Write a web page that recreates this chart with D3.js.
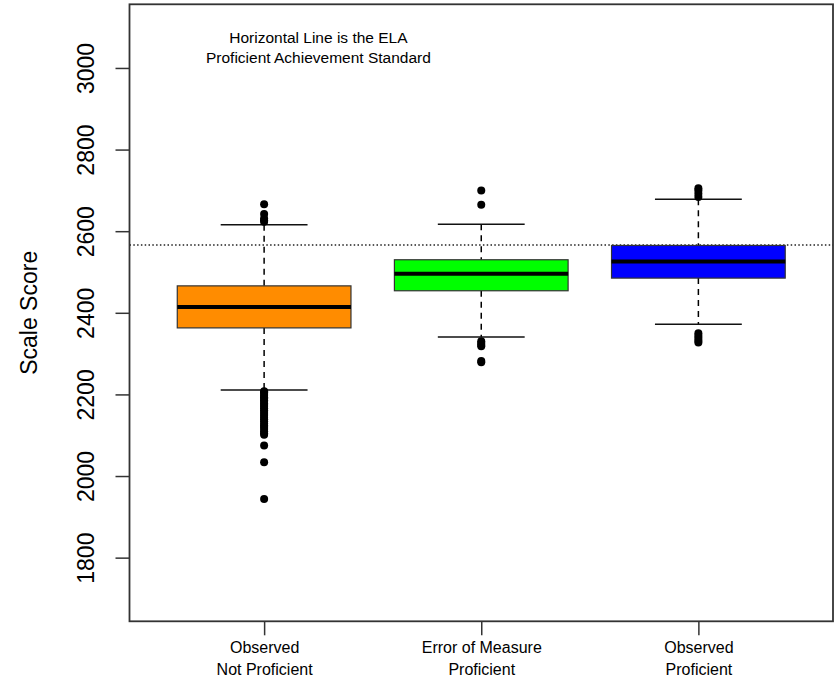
<!DOCTYPE html>
<html>
<head>
<meta charset="utf-8">
<script src="https://cdn.jsdelivr.net/npm/d3@7"></script>
<style>
  html, body { margin: 0; padding: 0; background: #fff; }
  svg { display: block; }
  text { font-family: "Liberation Sans", Arial, sans-serif; fill: #000; }
</style>
</head>
<body>
<script>
// ---- data ----
const categories = [["Observed", "Not Proficient"], ["Error of Measure", "Proficient"], ["Observed", "Proficient"]];
const lowerWhisker = [2211, 2341, 2372];
const q1 = [2363, 2454, 2485];
const medians = [2414, 2496, 2526];
const q3 = [2466, 2530, 2565];
const upperWhisker = [2616, 2617, 2678];
const outliersNotProficient = [2623, 2627, 2631, 2642, 2666,
  2208, 2205, 2201, 2197, 2193, 2190, 2186, 2182, 2178, 2174, 2170, 2166, 2161, 2157, 2152,
  2148, 2143, 2139, 2134, 2129, 2124, 2120, 2115, 2110, 2105, 2101, 2075, 2034, 1944];
const outliersErrorProficient = [2700, 2665, 2330, 2326, 2321, 2318, 2282, 2279];
const outliersObservedProficient = [2705, 2700, 2692, 2684, 2350, 2344, 2338, 2332, 2327];
const outliers = [outliersNotProficient, outliersErrorProficient, outliersObservedProficient];
const yTicks = [1800, 2000, 2200, 2400, 2600, 2800, 3000];
const standard = 2566;
const annotationLines = ["Horizontal Line is the ELA", "Proficient Achievement Standard"];
const yLabel = "Scale Score";
const fills = ["#FF8C00", "#00FF00", "#0000FF"];

// ---- layout ----
const W = 837, H = 680;
const L = 129.5, R = 833, T = 4.3, B = 621.3;

const svg = d3.select("body").append("svg").attr("width", W).attr("height", H);

const x = d3.scaleLinear().domain([0.38, 3.62]).range([L, R]);
const y = d3.scaleLinear().domain([1644, 3156]).range([B, T]);

const boxW = 0.8, capW = 0.4;

// reference line (drawn first, boxes over it)
svg.append("line")
  .attr("x1", L).attr("x2", R)
  .attr("y1", y(standard)).attr("y2", y(standard))
  .attr("stroke", "#222").attr("stroke-width", 1.5)
  .attr("stroke-dasharray", "1.5,2.3");

const groups = svg.append("g").selectAll("g")
  .data(categories.map((c, i) => ({ i, pos: i + 1 })))
  .join("g");

// whiskers (dashed)
groups.append("line")
  .attr("x1", d => x(d.pos)).attr("x2", d => x(d.pos))
  .attr("y1", d => y(upperWhisker[d.i])).attr("y2", d => y(q3[d.i]))
  .attr("stroke", "#000").attr("stroke-width", 1.5).attr("stroke-dasharray", "6,5");
groups.append("line")
  .attr("x1", d => x(d.pos)).attr("x2", d => x(d.pos))
  .attr("y1", d => y(q1[d.i])).attr("y2", d => y(lowerWhisker[d.i]))
  .attr("stroke", "#000").attr("stroke-width", 1.5).attr("stroke-dasharray", "6,5");

// caps
[upperWhisker, lowerWhisker].forEach(arr => {
  groups.append("line")
    .attr("x1", d => x(d.pos - capW / 2)).attr("x2", d => x(d.pos + capW / 2))
    .attr("y1", d => y(arr[d.i])).attr("y2", d => y(arr[d.i]))
    .attr("stroke", "#111").attr("stroke-width", 1.5);
});

// boxes
groups.append("rect")
  .attr("x", d => x(d.pos - boxW / 2))
  .attr("width", d => x(d.pos + boxW / 2) - x(d.pos - boxW / 2))
  .attr("y", d => y(q3[d.i]))
  .attr("height", d => y(q1[d.i]) - y(q3[d.i]))
  .attr("fill", d => fills[d.i])
  .attr("stroke", "#333").attr("stroke-width", 1.2);

// medians
groups.append("line")
  .attr("x1", d => x(d.pos - boxW / 2)).attr("x2", d => x(d.pos + boxW / 2))
  .attr("y1", d => y(medians[d.i])).attr("y2", d => y(medians[d.i]))
  .attr("stroke", "#000").attr("stroke-width", 4);

// outliers
groups.selectAll("circle")
  .data(d => outliers[d.i].map(v => ({ v, pos: d.pos })))
  .join("circle")
  .attr("cx", d => x(d.pos)).attr("cy", d => y(d.v))
  .attr("r", 4).attr("fill", "#000");

// frame
svg.append("rect")
  .attr("x", L).attr("y", T).attr("width", R - L).attr("height", B - T)
  .attr("fill", "none").attr("stroke", "#333").attr("stroke-width", 1.8);

// y axis
const yAxis = svg.append("g").attr("transform", `translate(${L},0)`)
  .call(d3.axisLeft(y).tickValues(yTicks).tickSize(14).tickFormat(d3.format("d")));
yAxis.select(".domain").remove();
yAxis.selectAll(".tick line").attr("stroke", "#333").attr("stroke-width", 1.5);
yAxis.selectAll(".tick text")
  .attr("transform", "rotate(-90)")
  .attr("x", 0).attr("y", -35.5).attr("dy", 0)
  .attr("text-anchor", "middle")
  .style("font-family", "'Liberation Sans', Arial, sans-serif")
  .style("font-size", "23px").attr("fill", "#000");

// x axis
const xAxis = svg.append("g").attr("transform", `translate(0,${B})`)
  .call(d3.axisBottom(x).tickValues([1, 2, 3]).tickSize(14).tickFormat(""));
xAxis.select(".domain").remove();
xAxis.selectAll(".tick line").attr("stroke", "#333").attr("stroke-width", 1.5);
xAxis.selectAll(".tick").each(function (d) {
  const lines = categories[d - 1];
  const t = d3.select(this).append("text")
    .attr("text-anchor", "middle")
    .style("font-family", "'Liberation Sans', Arial, sans-serif")
    .style("font-size", "16px").attr("fill", "#000");
  lines.forEach((s, k) => {
    t.append("tspan").attr("x", 0).attr("y", 31.4 + k * 22.3).text(s);
  });
});

// y label
svg.append("text")
  .attr("transform", `translate(37,${(T + B) / 2}) rotate(-90)`)
  .attr("text-anchor", "middle")
  .style("font-size", "23px")
  .text(yLabel);

// annotation
const ann = svg.append("text")
  .attr("text-anchor", "middle")
  .style("font-size", "15.5px");
annotationLines.forEach((s, k) => {
  ann.append("tspan").attr("x", x(1.25)).attr("y", y(3060) + k * 19.5).text(s);
});
</script>
</body>
</html>
